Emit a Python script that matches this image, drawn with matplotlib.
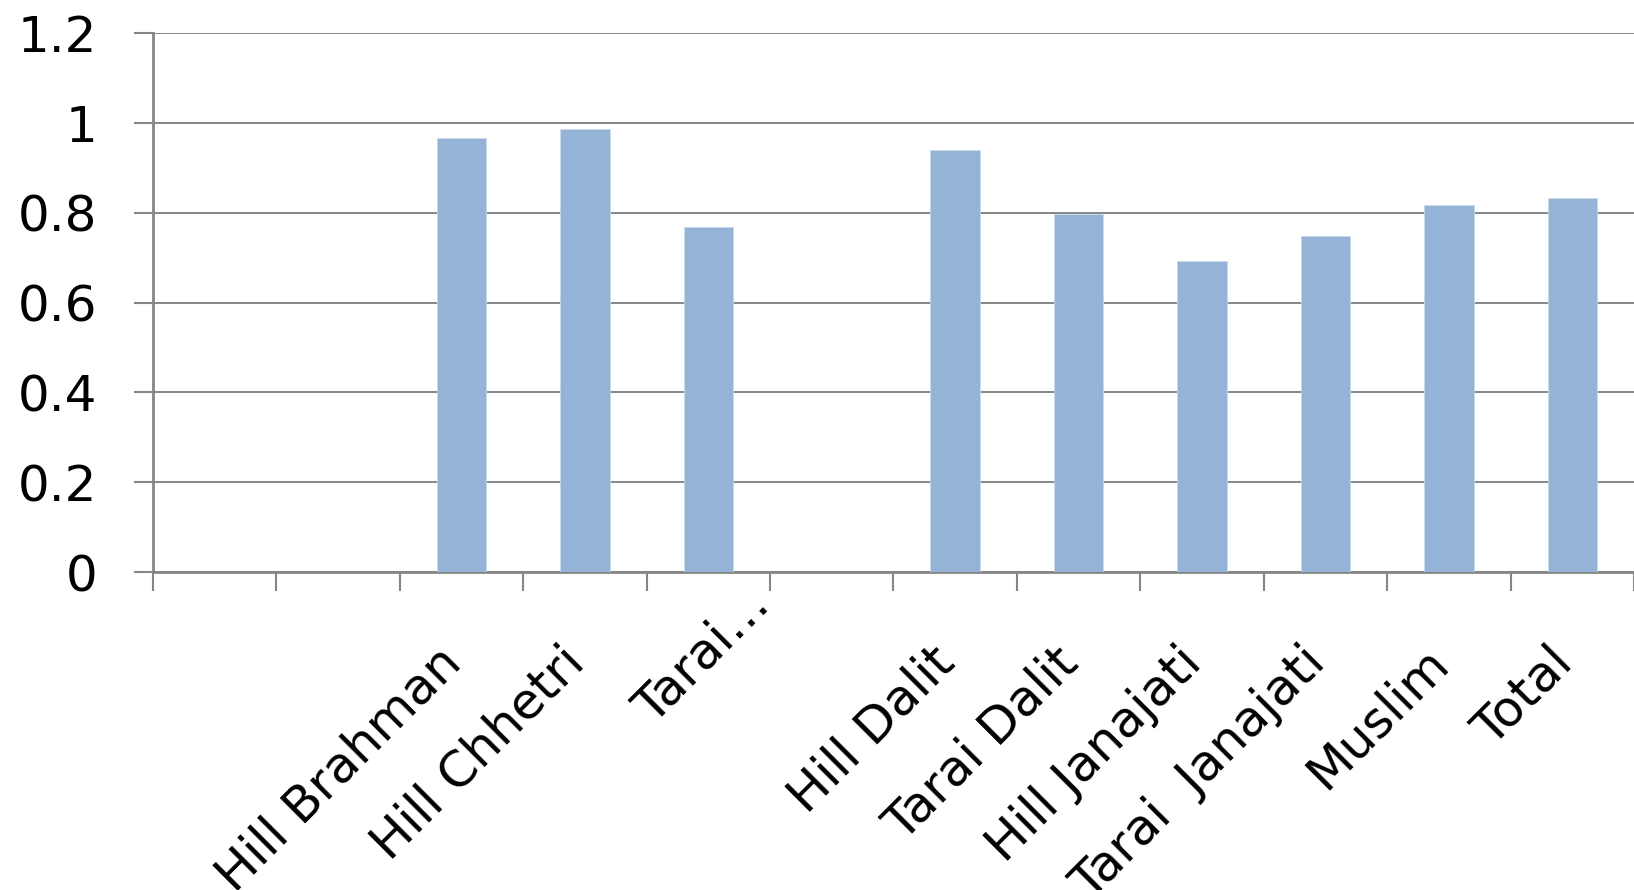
import numpy as np
import matplotlib
matplotlib.use("Agg")
import matplotlib.pyplot as plt
import matplotlib.transforms as mtransforms
from matplotlib.ticker import FormatStrFormatter, FixedLocator

# category slots (three slots carry no label and no bar in the source)
categories = ["", "", "Hill Brahman", "Hill Chhetri", "Tarai\u2026", "",
              "Hill Dalit", "Tarai Dalit", "Hill Janajati", "Tarai  Janajati",
              "Muslim", "Total"]
values = [np.nan, np.nan, 0.967, 0.986, 0.769, np.nan,
          0.939, 0.797, 0.693, 0.747, 0.818, 0.833]
yticks = [0, 0.2, 0.4, 0.6, 0.8, 1.0, 1.2]

bar_color = "#95B3D7"
grid_color = "#868686"

plt.rcParams['font.family'] = ['DejaVu Sans']

fig = plt.figure(figsize=(16.34, 8.90), dpi=100)
ax = fig.add_axes([0.0936, 0.3573, 0.9064, 0.6056])

x = np.arange(len(categories))
ax.bar(x, np.nan_to_num(values), width=0.4, color=bar_color,
       edgecolor="#c9d9ec", linewidth=0.6, zorder=3)

ax.set_xlim(-0.5, len(categories) - 0.5)
ax.set_ylim(0, 1.2)

# y axis
ax.set_yticks(yticks)
ax.yaxis.set_major_formatter(FormatStrFormatter('%g'))
ax.tick_params(axis='y', direction='out', length=14, width=1.5,
               color=grid_color, labelsize=36, pad=26)
ax.yaxis.grid(True, color=grid_color, linewidth=1.4, zorder=0)
ax.set_axisbelow(True)

# x axis: tick marks on slot boundaries, labels at slot centres
ax.xaxis.set_major_locator(FixedLocator(np.arange(-0.5, len(categories) - 0.4, 1.0)))
ax.xaxis.set_major_formatter(plt.NullFormatter())
ax.xaxis.set_minor_locator(FixedLocator(x))
ax.set_xticklabels(categories, minor=True)
ax.tick_params(axis='x', which='major', direction='out', length=14,
               width=1.5, color=grid_color)
ax.tick_params(axis='x', which='minor', length=0, labelsize=36, pad=36)

offset = mtransforms.ScaledTranslation(-0.25, -0.16, fig.dpi_scale_trans)
for lbl in ax.get_xticklabels(minor=True):
    lbl.set_rotation(45)
    lbl.set_ha('right')
    lbl.set_va('top')
    lbl.set_rotation_mode('anchor')
    if lbl.get_text() == "Tarai\u2026":
        lbl.set_transform(lbl.get_transform() +
                          mtransforms.ScaledTranslation(0.37, 0.42, fig.dpi_scale_trans))
    else:
        lbl.set_transform(lbl.get_transform() + offset)

for side in ['top', 'right']:
    ax.spines[side].set_visible(False)
for side in ['left', 'bottom']:
    ax.spines[side].set_color(grid_color)
    ax.spines[side].set_linewidth(2)

fig.savefig("out.png", dpi=100)
